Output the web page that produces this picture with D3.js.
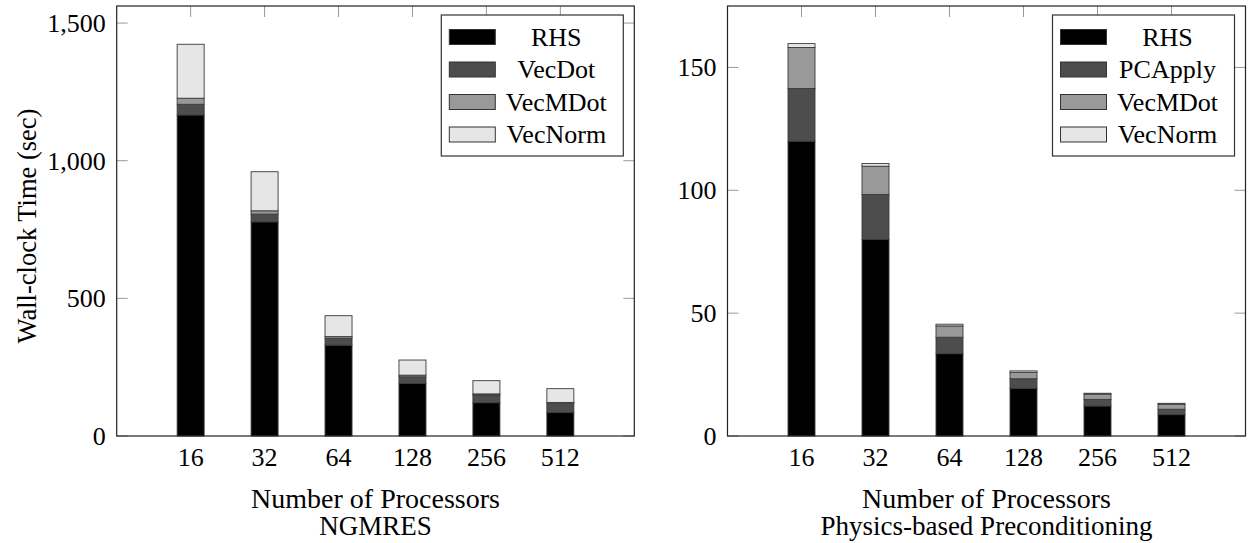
<!DOCTYPE html>
<html>
<head>
<meta charset="utf-8">
<script src="https://cdn.jsdelivr.net/npm/d3@7"></script>
<style>
  body { margin: 0; background: #fff; }
  svg { display: block; font-family: 'Liberation Serif', 'DejaVu Serif', serif; }
</style>
</head>
<body>
<svg id="container"></svg>
<script>
const width = 1248;
const height = 543;

// processor counts (x categories)
const procs = ['16', '32', '64', '128', '256', '512'];

// NGMRES timings (sec)
const ngmresKeys = ['RHS', 'VecDot', 'VecMDot', 'VecNorm'];
const ngmresRHS = [1166, 778, 330, 191, 121, 85];
const ngmresVecDot = [39, 28, 25, 24, 28, 34];
const ngmresVecMDot = [22, 12, 6, 6, 4, 3];
const ngmresVecNorm = [196, 142, 76, 55, 48, 50];
const ngmresTicks = [0, 500, 1000, 1500];

// physics-based preconditioning timings (sec)
const pbpKeys = ['RHS', 'PCApply', 'VecMDot', 'VecNorm'];
const pbpRHS = [120, 80, 33.5, 19.4, 12.2, 8.7];
const pbpPCApply = [21.4, 18.3, 6.7, 3.9, 2.7, 2.2];
const pbpVecMDot = [16.7, 11.5, 4.6, 2.6, 2.1, 2.0];
const pbpVecNorm = [1.6, 1.1, 0.7, 0.6, 0.4, 0.4];
const pbpTicks = [0, 50, 100, 150];

const fills = ['#000000', '#4d4d4d', '#999999', '#e6e6e6'];

const svg = d3.select('#container')
  .attr('width', width)
  .attr('height', height);

const toRows = (series) => procs.map((p, i) => {
  const row = { proc: p };
  series.forEach(([k, vals]) => { row[k] = vals[i]; });
  return row;
});

const panel = (opts) => {
  const { x0, x1, y0, y1, yMax, keys, rows, ticks, fmt, xlabel, title, ylabel } = opts;

  const x = d3.scalePoint().domain(procs).range([x0, x1]).padding(1);
  const y = d3.scaleLinear().domain([0, yMax]).range([y1, y0]);

  const g = svg.append('g');

  // tick marks (inward, mirrored on all sides)
  const tickLen = 11;
  const tk = g.append('g').attr('stroke', '#9a9a9a').attr('stroke-width', 1);
  ticks.forEach((t) => {
    tk.append('line').attr('x1', x0).attr('x2', x0 + tickLen).attr('y1', y(t)).attr('y2', y(t));
    tk.append('line').attr('x1', x1 - tickLen).attr('x2', x1).attr('y1', y(t)).attr('y2', y(t));
  });
  procs.forEach((p) => {
    tk.append('line').attr('x1', x(p)).attr('x2', x(p)).attr('y1', y0).attr('y2', y0 + tickLen);
    tk.append('line').attr('x1', x(p)).attr('x2', x(p)).attr('y1', y1).attr('y2', y1 - tickLen);
  });

  // stacked bars
  const stacked = d3.stack().keys(keys)(rows);
  const barW = 27;
  g.append('g')
    .selectAll('g')
    .data(stacked)
    .enter()
    .append('g')
      .attr('fill', (d, i) => fills[i])
    .selectAll('rect')
    .data((d) => d)
    .enter()
    .append('rect')
      .attr('x', (d) => x(d.data.proc) - barW / 2)
      .attr('y', (d) => y(d[1]))
      .attr('width', barW)
      .attr('height', (d) => y(d[0]) - y(d[1]))
      .attr('stroke', '#3a3a3a')
      .attr('stroke-width', 0.9);

  // frame
  g.append('rect')
    .attr('x', x0).attr('y', y0)
    .attr('width', x1 - x0).attr('height', y1 - y0)
    .attr('fill', 'none')
    .attr('stroke', '#222')
    .attr('stroke-width', 1.2);

  // y tick labels
  g.append('g')
    .selectAll('text')
    .data(ticks)
    .enter()
    .append('text')
      .attr('x', x0 - 11)
      .attr('y', (d) => y(d))
      .attr('dy', '0.34em')
      .attr('text-anchor', 'end')
      .attr('font-size', 26)
      .text((d) => fmt(d));

  // x tick labels
  g.append('g')
    .selectAll('text')
    .data(procs)
    .enter()
    .append('text')
      .attr('x', (d) => x(d))
      .attr('y', y1 + 30)
      .attr('text-anchor', 'middle')
      .attr('font-size', 26)
      .text((d) => d);

  const cx = (x0 + x1) / 2;
  g.append('text').attr('x', cx).attr('y', 508).attr('text-anchor', 'middle')
    .attr('font-size', 28).text(xlabel);
  g.append('text').attr('x', cx).attr('y', 535).attr('text-anchor', 'middle')
    .attr('font-size', 27).text(title);

  if (ylabel) {
    g.append('text')
      .attr('transform', `translate(36, ${(y0 + y1) / 2 + 5}) rotate(-90)`)
      .attr('text-anchor', 'middle')
      .attr('font-size', 26.5)
      .text(ylabel);
  }

  // legend
  const lw = 182, lh = 141;
  const lx = x1 - 11 - lw, ly = y0 + 9;
  const leg = g.append('g').attr('transform', `translate(${lx}, ${ly})`);
  leg.append('rect')
    .attr('width', lw).attr('height', lh)
    .attr('fill', '#fff')
    .attr('stroke', '#333')
    .attr('stroke-width', 1.2);
  const item = leg.selectAll('g.item')
    .data(keys)
    .enter()
    .append('g')
      .attr('class', 'item')
      .attr('transform', (d, i) => `translate(0, ${22 + i * 32.5})`);
  item.append('rect')
    .attr('x', 8).attr('y', -7.5)
    .attr('width', 46).attr('height', 15)
    .attr('fill', (d, i) => fills[i])
    .attr('stroke', '#333')
    .attr('stroke-width', 1);
  item.append('text')
    .attr('x', 115)
    .attr('dy', '0.34em')
    .attr('text-anchor', 'middle')
    .attr('font-size', 26)
    .text((d) => d);
};

panel({
  x0: 116.7, x1: 634.3, y0: 6, y1: 436, yMax: 1562,
  keys: ngmresKeys,
  rows: toRows([['RHS', ngmresRHS], ['VecDot', ngmresVecDot], ['VecMDot', ngmresVecMDot], ['VecNorm', ngmresVecNorm]]),
  ticks: ngmresTicks,
  fmt: d3.format(','),
  xlabel: 'Number of Processors',
  title: 'NGMRES',
  ylabel: 'Wall-clock Time (sec)'
});

panel({
  x0: 727.5, x1: 1245.5, y0: 6, y1: 436, yMax: 175,
  keys: pbpKeys,
  rows: toRows([['RHS', pbpRHS], ['PCApply', pbpPCApply], ['VecMDot', pbpVecMDot], ['VecNorm', pbpVecNorm]]),
  ticks: pbpTicks,
  fmt: d3.format(','),
  xlabel: 'Number of Processors',
  title: 'Physics-based Preconditioning'
});
</script>
</body>
</html>
